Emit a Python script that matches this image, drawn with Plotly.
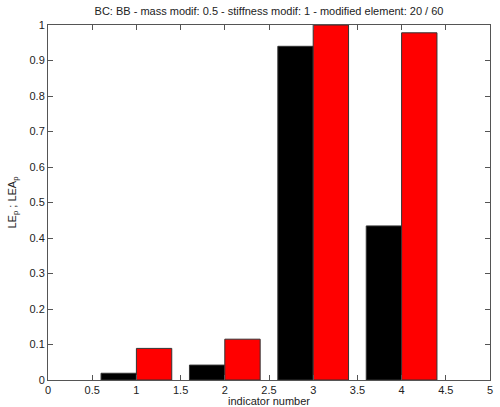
import plotly.graph_objects as go

indicators = [1, 2, 3, 4]
le_p = [0.019, 0.042, 0.94, 0.434]
lea_p = [0.089, 0.115, 1.0, 0.978]
x_ticks = [0, 0.5, 1, 1.5, 2, 2.5, 3, 3.5, 4, 4.5, 5]
x_tick_labels = ["0", "0.5", "1", "1.5", "2", "2.5", "3", "3.5", "4", "4.5", "5"]
y_ticks = [0, 0.1, 0.2, 0.3, 0.4, 0.5, 0.6, 0.7, 0.8, 0.9, 1]
y_tick_labels = ["0", "0.1", "0.2", "0.3", "0.4", "0.5", "0.6", "0.7", "0.8", "0.9", "1"]

fig = go.Figure()
fig.add_trace(go.Bar(x=indicators, y=le_p, name="LE_p", marker=dict(color="black", line=dict(color="#333333", width=1))))
fig.add_trace(go.Bar(x=indicators, y=lea_p, name="LEA_p", marker=dict(color="#ff0000", line=dict(color="#333333", width=1))))

axis_common = dict(
    showline=True, linecolor="#555555", linewidth=1, mirror="ticks",
    ticks="inside", ticklen=5, tickcolor="#555555", showgrid=False, zeroline=False,
    automargin=False,
    tickfont=dict(family="Liberation Sans, Arial", size=11, color="#222222"),
)

fig.update_layout(
    width=500, height=407,
    margin=dict(l=48, r=10, t=25, b=27),
    paper_bgcolor="white", plot_bgcolor="white",
    barmode="group", bargap=0.2, bargroupgap=0,
    showlegend=False,
    title=dict(text="BC: BB - mass modif: 0.5 - stiffness modif: 1 - modified element: 20 / 60",
               x=0.538, xanchor="center", y=0.972, yanchor="middle",
               font=dict(family="Liberation Sans, Arial", size=11, color="#222222")),
    xaxis=dict(range=[0, 5], tickvals=x_ticks, ticktext=x_tick_labels,
               title=dict(text="indicator number", standoff=0,
                          font=dict(family="Liberation Sans, Arial", size=11, color="#222222")),
               **axis_common),
    yaxis=dict(range=[0, 1], tickvals=y_ticks, ticktext=y_tick_labels,
               title=dict(text="LE<sub>p</sub> ; LEA<sub>p</sub>", standoff=10,
                          font=dict(family="Liberation Sans, Arial", size=11, color="#222222")),
               **axis_common),
)

fig.write_html("out.html")
